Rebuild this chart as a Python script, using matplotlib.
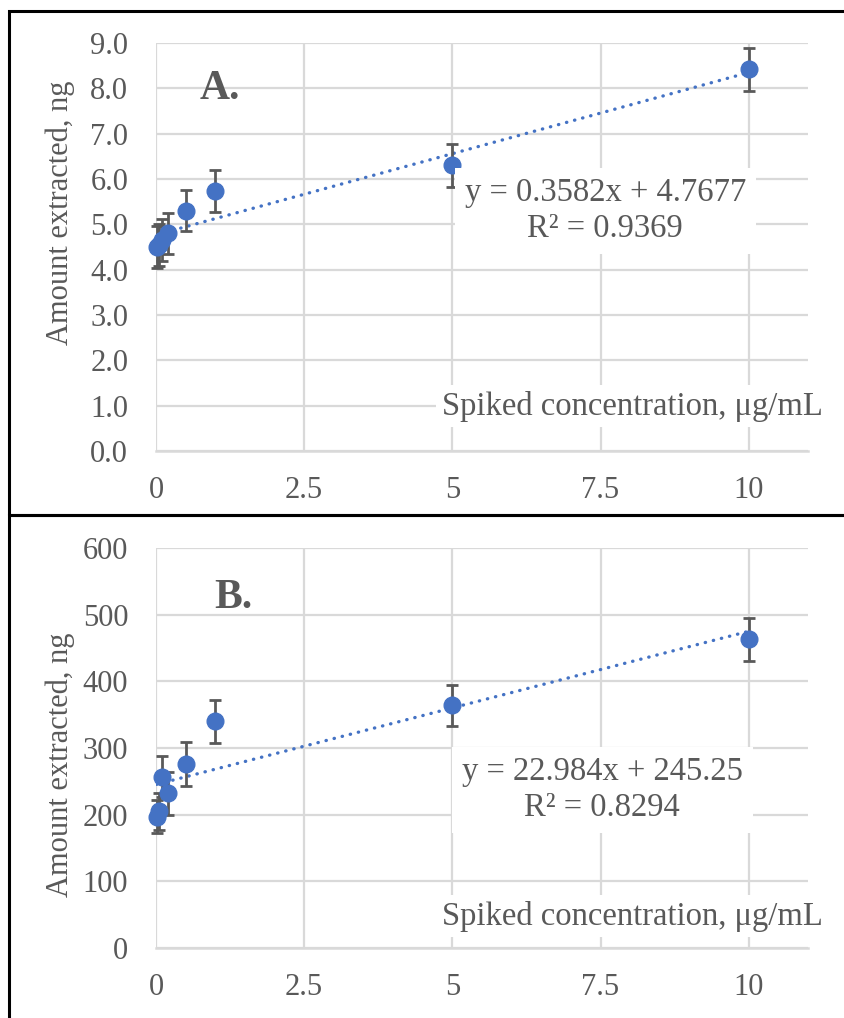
import numpy as np
import matplotlib
matplotlib.use('Agg')
from matplotlib import pyplot as plt
from matplotlib.patches import Rectangle

# spiked concentration, ug/mL
conc = [0.01, 0.05, 0.1, 0.2, 0.5, 1, 5, 10]

# panel A
amount_a = [4.50, 4.55, 4.65, 4.80, 5.30, 5.74, 6.30, 8.42]
err_a = [0.46, 0.46, 0.46, 0.46, 0.45, 0.46, 0.47, 0.47]
slope_a, icpt_a, r2_a = 0.3582, 4.7677, 0.9369

# panel B
amount_b = [197, 205, 257, 232, 276, 340, 364, 463]
err_b = [25, 28, 31, 32, 33, 32, 31, 32]
slope_b, icpt_b, r2_b = 22.984, 245.25, 0.8294

xticks = [0, 2.5, 5, 7.5, 10]
xtick_labels = ['0', '2.5', '5', '7.5', '10']

W, H = 845, 1018
blue = '#4472C4'
grey = '#595959'
grid = '#D9D9D9'
plt.rcParams['font.family'] = ['Liberation Serif', 'DejaVu Serif']

fig = plt.figure(figsize=(W / 100, H / 100), dpi=100)

# black frames round each panel
fig.patches.append(Rectangle((9 / W, 1 - 515 / H), 1.0, 504 / H, transform=fig.transFigure,
                             fill=False, edgecolor='black', lw=2.2, clip_on=False))
fig.patches.append(Rectangle((9 / W, -0.05), 1.0, 0.05 + 1 - 515 / H, transform=fig.transFigure,
                             fill=False, edgecolor='black', lw=2.2, clip_on=False))


def panel(rect, y, err, slope, icpt, r2, ylim, ystep, yfmt, letter, letter_xy,
          eq_xy, lab_y, ylab_yc):
    ax = fig.add_axes(rect)
    ax.errorbar(conc, y, yerr=err, fmt='none', ecolor=grey, elinewidth=2.0,
                capsize=4.5, capthick=2.0, zorder=3, clip_on=False)
    ax.plot(conc, y, 'o', color=blue, ms=12, zorder=4, clip_on=False)
    # linear trendline from the fitted coefficients
    xs = np.array([min(conc), max(conc)])
    ax.plot(xs, slope * xs + icpt, color=blue, lw=2.4, ls=(0, (0.1, 2.4)),
            dash_capstyle='round', zorder=2)

    ax.set_xlim(0, 11)
    ax.set_ylim(*ylim)
    ax.set_xticks(xticks)
    ax.set_xticklabels(xtick_labels)
    yt = np.arange(ylim[0], ylim[1] + ystep / 2, ystep)
    ax.set_yticks(yt)
    ax.set_yticklabels([yfmt.format(v) for v in yt])
    ax.tick_params(length=0, labelsize=22, labelcolor=grey, pad=20)
    ax.tick_params(axis='x', pad=18)
    ax.grid(True, color=grid, lw=1.6, zorder=0)
    ax.set_axisbelow(True)
    for s in ['top', 'right', 'left']:
        ax.spines[s].set_visible(False)
    ax.spines['bottom'].set_color(grid)
    ax.spines['bottom'].set_linewidth(1.8)

    ax.text(*letter_xy, letter, fontsize=30, fontweight='bold', color=grey,
            ha='center', va='center')
    ax.text(*eq_xy, f'y = {slope}x + {icpt}\nR² = {r2}', fontsize=23.5, color=grey,
            ha='center', va='center', linespacing=1.22, zorder=6,
            bbox=dict(facecolor='white', edgecolor='none', pad=7))
    ax.text(4.82, lab_y, 'Spiked concentration, μg/mL', fontsize=23.5, color=grey,
            ha='left', va='center', zorder=6, clip_on=False,
            bbox=dict(facecolor='white', edgecolor='none', pad=4))
    fig.text(60 / W, 1 - ylab_yc / H, 'Amount extracted, ng', rotation=90,
             fontsize=22, color=grey, ha='center', va='center')
    return ax


left = 156 / W
width = (808 - 156) / W
panel([left, 1 - 451 / H, width, (451 - 43) / H], amount_a, err_a,
      slope_a, icpt_a, r2_a, (0, 9), 1, '{:.1f}', 'A.', (1.08, 7.99),
      (7.58, 5.30), 0.99, 213)
panel([left, 1 - 948 / H, width, (948 - 548) / H], amount_b, err_b,
      slope_b, icpt_b, r2_b, (0, 600), 100, '{:.0f}', 'B.', (1.30, 525),
      (7.53, 237), 48, 765)

fig.savefig('out.png', dpi=100, facecolor='white')
